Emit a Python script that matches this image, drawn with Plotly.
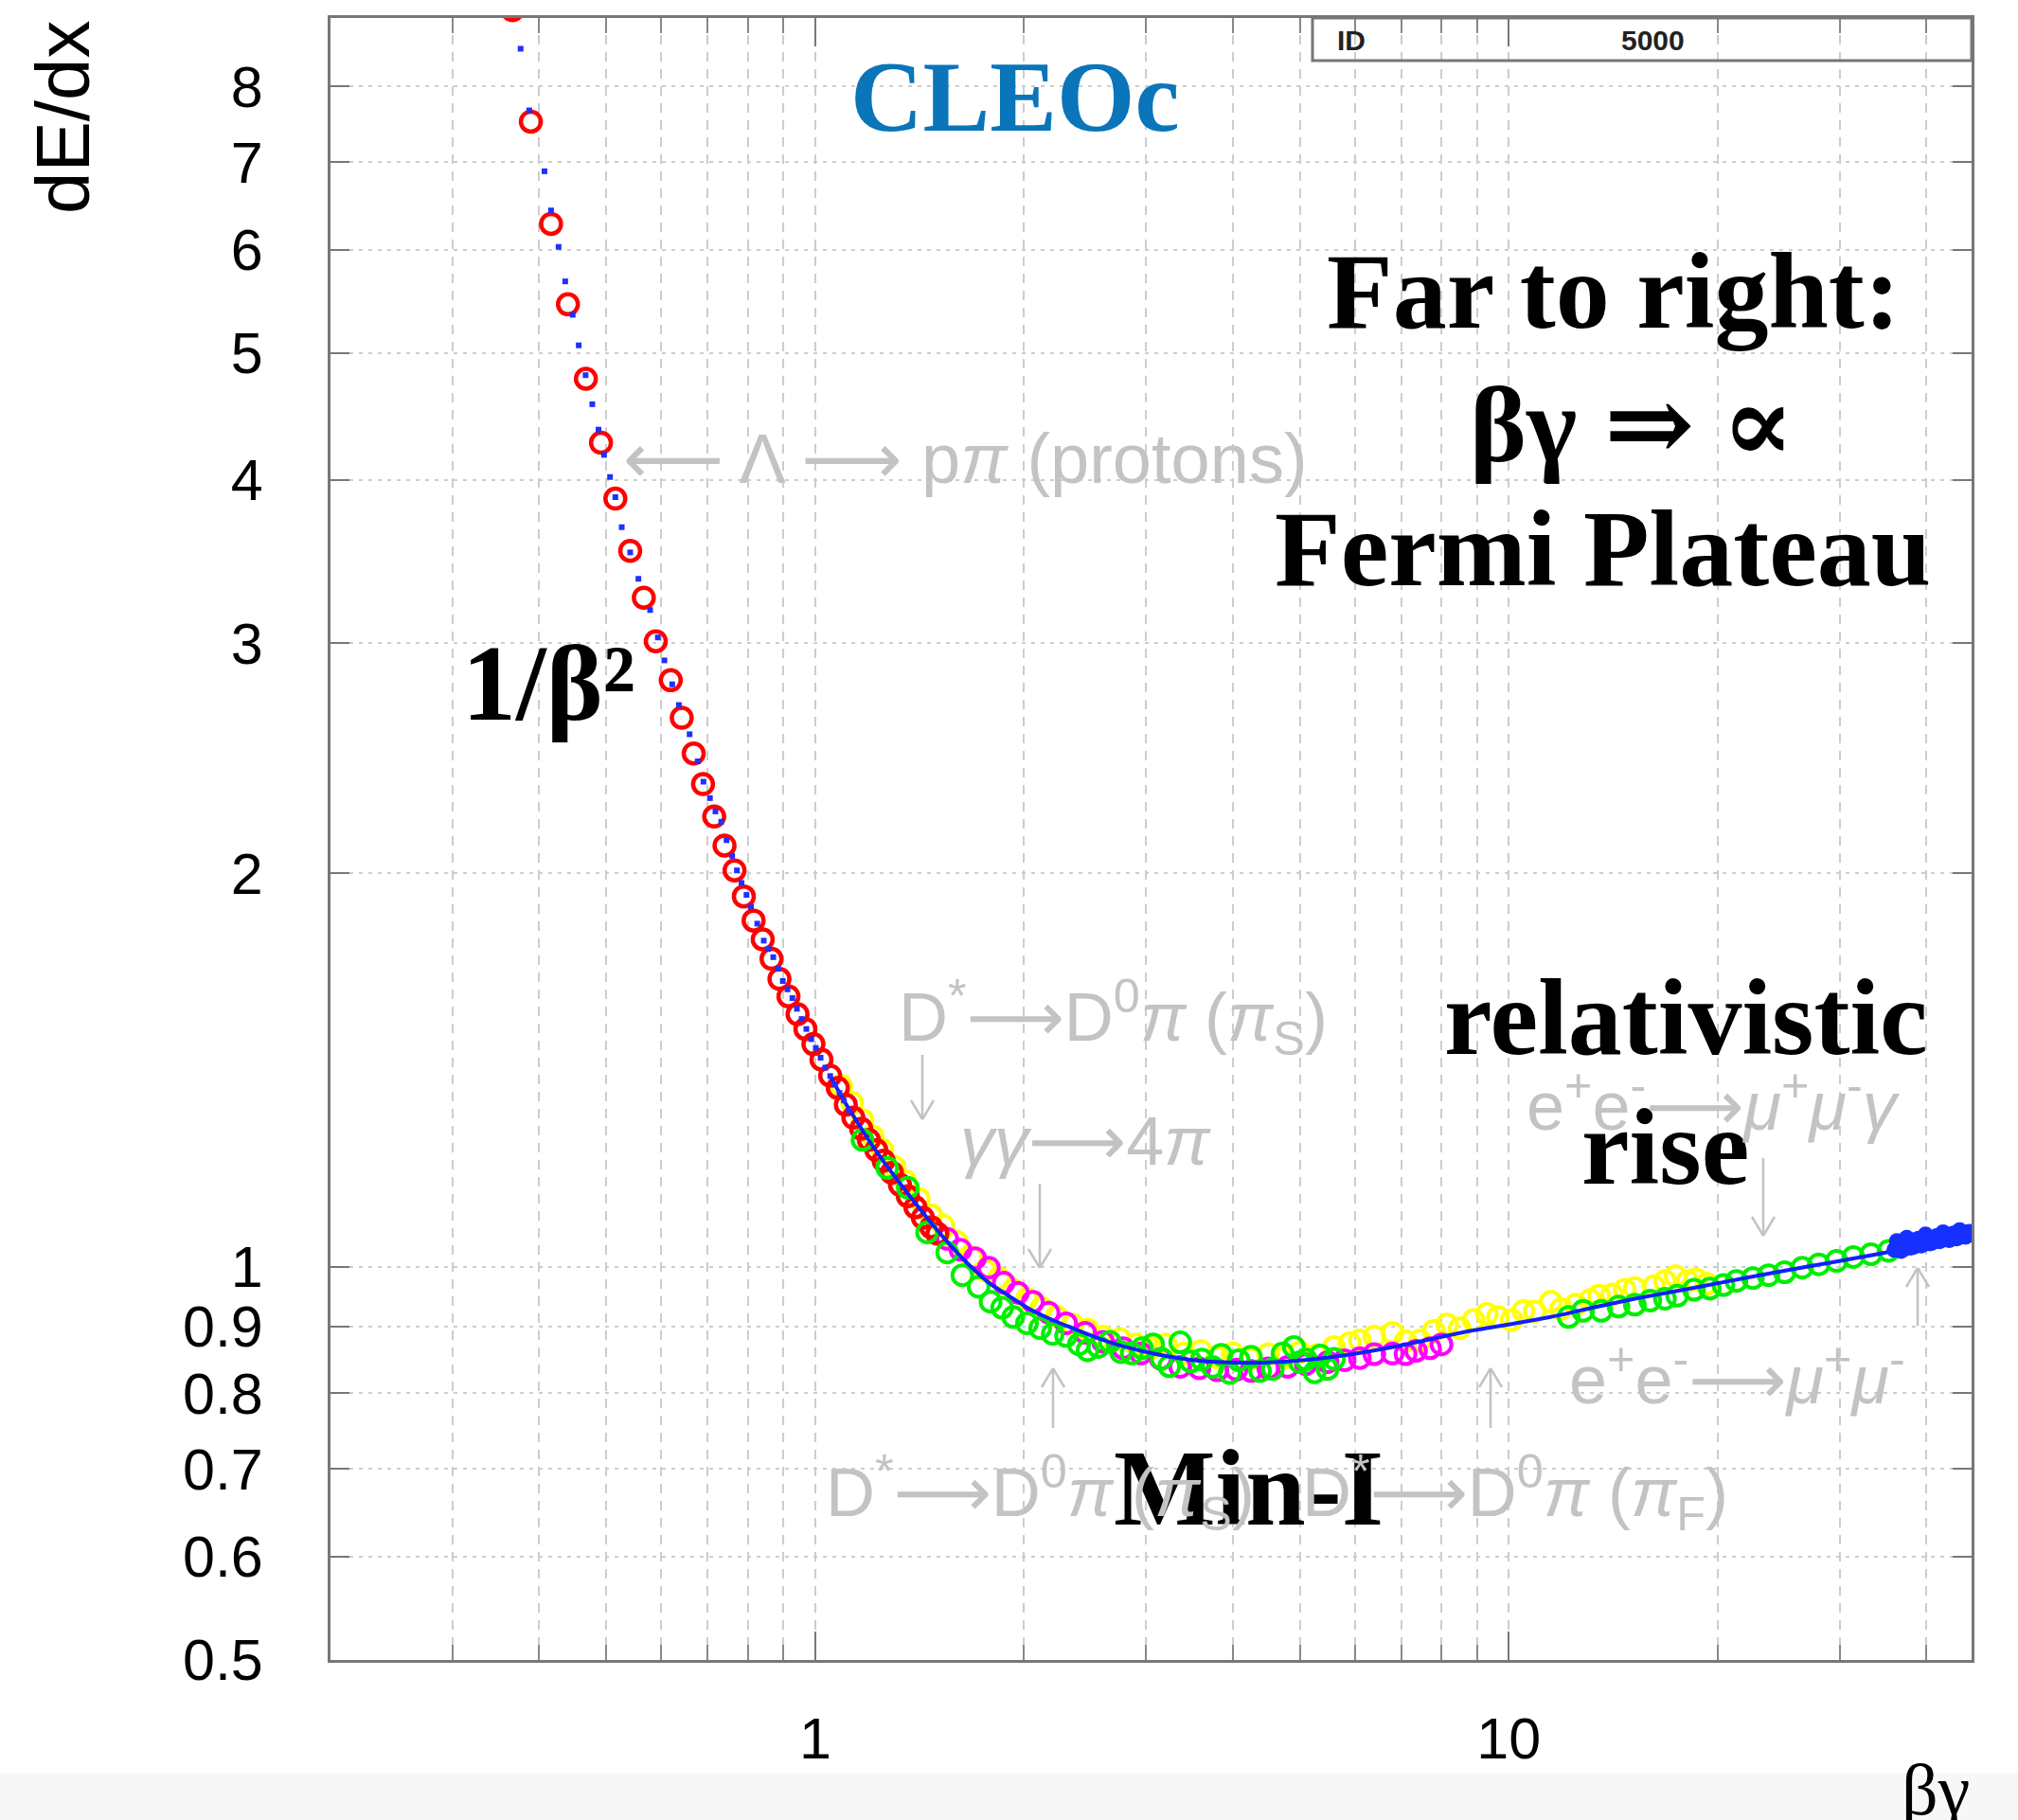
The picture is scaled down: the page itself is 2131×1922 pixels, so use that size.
import plotly.graph_objects as go

# ---------------------------------------------------------------
# Specific ionisation dE/dx (relative units) versus beta*gamma
# ---------------------------------------------------------------

# protons (red open circles)
red_bg = [0.366, 0.389, 0.416, 0.440, 0.467, 0.491, 0.515, 0.541, 0.566, 0.589,
          0.619, 0.642, 0.668, 0.689, 0.715, 0.740, 0.765, 0.789, 0.815, 0.840,
          0.865, 0.888, 0.915, 0.943, 0.968, 0.994, 1.021, 1.051, 1.078, 1.107,
          1.135, 1.165, 1.195, 1.225, 1.255, 1.290, 1.325, 1.360, 1.395, 1.430,
          1.470, 1.500]
red_dedx = [9.15, 7.52, 6.28, 5.45, 4.78, 4.27, 3.87, 3.53, 3.25, 3.01,
            2.81, 2.63, 2.47, 2.34, 2.21, 2.10, 2.01, 1.92, 1.84, 1.78,
            1.72, 1.66, 1.61, 1.56, 1.52, 1.48, 1.44, 1.40, 1.37, 1.33,
            1.30, 1.275, 1.25, 1.228, 1.205, 1.18, 1.155, 1.132, 1.11, 1.09,
            1.072, 1.060]

# yellow open circles
yel_bg = [1.09, 1.13, 1.17, 1.21, 1.25, 1.30, 1.35, 1.41, 1.47, 1.53,
          1.60, 1.68, 1.76, 1.84, 1.93, 2.02, 2.12, 2.23, 2.35, 2.47,
          2.60, 2.75, 2.90, 3.05, 3.20, 3.40, 3.60, 3.80, 4.00, 4.25,
          4.50, 4.75, 5.00, 5.30, 5.60, 5.90, 6.10, 6.40, 6.80, 7.10,
          7.45, 7.80, 8.15, 8.50, 8.90, 9.30, 9.65, 10.1, 10.5, 10.9,
          11.5, 11.9, 12.5, 13.1, 13.5, 14.1, 14.7, 15.2, 16.2, 16.8,
          17.4, 18.1, 18.6, 19.3]
yel_dedx = [1.375, 1.335, 1.295, 1.258, 1.228, 1.192, 1.162, 1.127, 1.095, 1.075,
            1.045, 1.017, 0.993, 0.980, 0.960, 0.945, 0.930, 0.916, 0.903, 0.895,
            0.884, 0.880, 0.872, 0.866, 0.872, 0.858, 0.862, 0.852, 0.858, 0.850,
            0.857, 0.852, 0.860, 0.856, 0.868, 0.874, 0.878, 0.884, 0.890, 0.877,
            0.878, 0.893, 0.903, 0.897, 0.910, 0.920, 0.915, 0.910, 0.925, 0.924,
            0.940, 0.928, 0.935, 0.943, 0.950, 0.952, 0.960, 0.963, 0.966, 0.975,
            0.983, 0.975, 0.978, 0.970]

# magenta open circles
mag_bg = [1.55, 1.62, 1.70, 1.78, 1.87, 1.96, 2.06, 2.17, 2.30, 2.45,
          2.60, 2.78, 2.95, 3.15, 3.36, 3.58, 3.80, 4.05, 4.25, 4.50,
          4.80, 5.10, 5.48, 5.80, 6.10, 6.40, 6.80, 7.10, 7.35, 7.70, 8.00]
mag_dedx = [1.050, 1.030, 1.015, 0.998, 0.972, 0.955, 0.940, 0.922, 0.905, 0.890,
            0.876, 0.866, 0.858, 0.850, 0.838, 0.836, 0.833, 0.834, 0.832, 0.836,
            0.838, 0.842, 0.845, 0.848, 0.851, 0.857, 0.858, 0.857, 0.862, 0.866, 0.872]

# green open circles
grn_bg = [1.17, 1.27, 1.36, 1.45, 1.55, 1.63, 1.72, 1.79, 1.86, 1.93,
          2.02, 2.11, 2.20, 2.30, 2.40, 2.47, 2.56, 2.66, 2.76, 2.86,
          2.96, 3.07, 3.16, 3.24, 3.36, 3.48, 3.61, 3.74, 3.85, 3.96,
          4.08, 4.25, 4.38, 4.57, 4.72, 4.90, 5.00, 5.10, 5.25, 5.35,
          5.48, 5.60, 12.2, 12.8, 13.6, 14.4, 15.2, 16.0, 16.8, 17.5,
          18.5, 19.5, 20.4, 21.3, 22.5, 23.7, 25.0, 26.5, 28.0, 29.7,
          31.4, 33.3, 35.3]
grn_dedx = [1.250, 1.190, 1.149, 1.062, 1.025, 0.985, 0.965, 0.940, 0.930, 0.915,
            0.905, 0.897, 0.888, 0.885, 0.872, 0.863, 0.868, 0.876, 0.860, 0.858,
            0.866, 0.872, 0.850, 0.839, 0.875, 0.846, 0.849, 0.838, 0.856, 0.829,
            0.848, 0.853, 0.832, 0.835, 0.858, 0.868, 0.845, 0.849, 0.830, 0.855,
            0.835, 0.850, 0.915, 0.925, 0.925, 0.932, 0.935, 0.942, 0.945, 0.950,
            0.960, 0.962, 0.968, 0.975, 0.980, 0.985, 0.990, 0.998, 1.004, 1.010,
            1.017, 1.022, 1.028]

# dense blue points at the highest beta*gamma
blob_bg = [36.0, 36.6, 37.2, 37.8, 38.4, 39.0, 39.6, 40.2, 40.8, 41.4,
           42.0, 42.6, 43.2, 43.8, 44.4, 45.0, 45.6, 46.2,
           36.3, 37.5, 38.7, 39.9, 41.1, 42.3, 43.5, 44.7, 45.9,
           36.8, 38.0, 39.3, 40.5, 41.8, 43.0, 44.2, 45.4]
blob_dedx = [1.030, 1.040, 1.032, 1.045, 1.036, 1.050, 1.040, 1.052, 1.043, 1.055,
             1.047, 1.058, 1.048, 1.060, 1.052, 1.062, 1.054, 1.063,
             1.046, 1.052, 1.048, 1.058, 1.052, 1.062, 1.058, 1.066, 1.062,
             1.028, 1.034, 1.038, 1.042, 1.046, 1.049, 1.051, 1.056]

# expectation sampled as small blue points (steep low-beta*gamma part)
dot_bg = [0.376, 0.387, 0.407, 0.416, 0.4265, 0.436, 0.447, 0.456, 0.4665, 0.477,
          0.487, 0.496, 0.506, 0.515, 0.526, 0.541, 0.556, 0.578, 0.593, 0.606,
          0.622, 0.636, 0.659, 0.677, 0.690, 0.705, 0.718, 0.732, 0.745, 0.759,
          0.771, 0.783, 0.796, 0.808, 0.825, 0.843, 0.856, 0.870, 0.884, 0.898,
          0.912, 0.927, 0.941, 0.956, 0.971, 0.987, 1.002, 1.018, 1.034, 1.051,
          1.068, 1.084, 1.100, 1.119]
dot_dedx = [8.55, 7.67, 6.89, 6.43, 6.03, 5.675, 5.35, 5.07, 4.81, 4.57,
            4.37, 4.18, 4.02, 3.88, 3.68, 3.52, 3.36, 3.18, 3.03, 2.91,
            2.79, 2.69, 2.555, 2.436, 2.35, 2.283, 2.23, 2.19, 2.12, 2.062,
            2.01, 1.966, 1.925, 1.884, 1.83, 1.776, 1.75, 1.725, 1.69, 1.654,
            1.63, 1.605, 1.575, 1.547, 1.52, 1.493, 1.47, 1.445, 1.42, 1.399,
            1.378, 1.358, 1.34, 1.317]

# expectation as a continuous line (minimum and relativistic rise)
fit_bg = [1.05, 1.10, 1.15, 1.20, 1.26, 1.33, 1.40, 1.48, 1.57, 1.67,
          1.78, 1.90, 2.03, 2.18, 2.35, 2.55, 2.80, 3.10, 3.45, 3.85,
          4.30, 4.80, 5.40, 6.10, 6.90, 7.80, 8.80, 10.0, 11.5, 13.2,
          15.2, 17.5, 20.2, 23.3, 27.0, 31.0, 36.0, 41.0, 46.5]
fit_dedx = [1.400, 1.340, 1.290, 1.245, 1.200, 1.155, 1.115, 1.075, 1.037, 1.002,
            0.972, 0.950, 0.929, 0.912, 0.897, 0.882, 0.868, 0.857, 0.849, 0.845,
            0.844, 0.846, 0.851, 0.859, 0.869, 0.881, 0.893, 0.903, 0.915, 0.930,
            0.945, 0.958, 0.972, 0.986, 1.000, 1.013, 1.028, 1.040, 1.050]

# axis ticks
y_ticks = [0.5, 0.6, 0.7, 0.8, 0.9, 1, 2, 3, 4, 5, 6, 7, 8]
y_tick_text = ["0.5", "0.6", "0.7", "0.8", "0.9", "1", "2", "3", "4", "5", "6", "7", "8"]
x_ticks = [1, 10]
x_tick_text = ["1", "10"]
x_minor = [0.3, 0.4, 0.5, 0.6, 0.7, 0.8, 0.9, 2, 3, 4, 5, 6, 7, 8, 9, 20, 30, 40]

# ---------------------------------------------------------------
W, H = 2131, 1922
L, R, T, B = 349, 2082, 19, 1753   # frame edges in pixels


def px(X):
    return (X - L) / (R - L)


def py(Y):
    return (B - Y) / (B - T)


fig = go.Figure()


def circles(x, y, color, size=21, width=4):
    fig.add_trace(go.Scatter(
        x=x, y=y, mode="markers", showlegend=False, hoverinfo="skip",
        marker=dict(symbol="circle-open", size=size, color=color,
                    line=dict(width=width, color=color))))


circles(yel_bg, yel_dedx, "#ffff00")
circles(mag_bg, mag_dedx, "#ff00ff")
circles(red_bg, red_dedx, "#ff0000", size=21, width=4.5)
circles(grn_bg, grn_dedx, "#00ee00")

fig.add_trace(go.Scatter(
    x=fit_bg, y=fit_dedx, mode="lines", showlegend=False, hoverinfo="skip",
    line=dict(color="#1020ff", width=4, shape="spline", smoothing=0.6)))
fig.add_trace(go.Scatter(
    x=dot_bg, y=dot_dedx, mode="markers", showlegend=False, hoverinfo="skip",
    marker=dict(symbol="square", size=6, color="#2030ff")))
fig.add_trace(go.Scatter(
    x=blob_bg, y=blob_dedx, mode="markers", showlegend=False, hoverinfo="skip",
    marker=dict(symbol="circle", size=17, color="#1530ff")))

# ---------------------------------------------------------------
annotations = []


def text(X, Y, s, size, color="black", family="Liberation Serif",
         xanchor="center", yanchor="middle", angle=0):
    annotations.append(dict(
        x=px(X), y=py(Y), xref="paper", yref="paper", text=s,
        showarrow=False, xanchor=xanchor, yanchor=yanchor, textangle=angle,
        font=dict(family=family, size=size, color=color)))


# headline labels
text(1071, 103, "<b>CLEOc</b>", 106, color="#0a75b9")
text(1704, 308, "<b>Far to right:</b>", 114)
text(1723, 448, "<b>βγ ⇒ ∝</b>", 114, family="Liberation Serif, DejaVu Serif")
text(1692, 580, "<b>Fermi Plateau</b>", 114)
text(1780, 1074, "<b>relativistic</b>", 114)
text(1758, 1211, "<b>rise</b>", 114)
text(579, 722, "<b>1/β²</b>", 114)
text(1318, 1571, "<b>Min-I</b>", 114)

# faint process labels
GREY = "#c3c3c3"
SANS = "Liberation Sans, DejaVu Sans"
text(656, 485, "⟵ Λ ⟶ p<i>π</i> (protons)", 74, GREY, SANS, xanchor="left")
text(947, 1074, "D<sup>*</sup>⟶D<sup>0</sup><i>π</i> (<i>π</i><sub>S</sub>)", 72,
     GREY, SANS, xanchor="left")
text(1012, 1205, "<i>γγ</i>⟶4<i>π</i>", 72, GREY, SANS, xanchor="left")
text(870, 1576, "D<sup>*</sup>⟶D<sup>0</sup><i>π</i> (<i>π</i><sub>S</sub>)", 72,
     GREY, SANS, xanchor="left")
text(1373, 1576, "D<sup>*</sup>⟶D<sup>0</sup><i>π</i> (<i>π</i><sub>F</sub>)", 72,
     GREY, SANS, xanchor="left")
text(1610, 1162, "e<sup>+</sup>e<sup>-</sup>⟶<i>μ</i><sup>+</sup><i>μ</i><sup>-</sup><i>γ</i>",
     72, GREY, SANS, xanchor="left")
text(1655, 1451, "e<sup>+</sup>e<sup>-</sup>⟶<i>μ</i><sup>+</sup><i>μ</i><sup>-</sup>",
     72, GREY, SANS, xanchor="left")

# statistics box text
text(1427, 42, "<b>ID</b>", 30, "#222222", SANS)
text(1745, 42, "<b>5000</b>", 30, "#222222", SANS)

# axis titles
text(66, 124, "dE/dx", 80, "black", SANS, angle=-90)
text(2044, 1890, "βγ", 76, "black", "Liberation Serif")

# ---------------------------------------------------------------
shapes = []


def seg(X0, Y0, X1, Y1, color=GREY, width=2.5):
    shapes.append(dict(type="line", xref="paper", yref="paper",
                       x0=px(X0), y0=py(Y0), x1=px(X1), y1=py(Y1),
                       line=dict(color=color, width=width)))


def arrow(X, Ytail, Ytip):
    seg(X, Ytail, X, Ytip)
    d = 20 if Ytip > Ytail else -20
    seg(X, Ytip, X - 12, Ytip - d)
    seg(X, Ytip, X + 12, Ytip - d)


arrow(974, 1114, 1182)
arrow(1098, 1250, 1339)
arrow(1112, 1508, 1445)
arrow(1574, 1508, 1445)
arrow(1862, 1223, 1305)
arrow(2025, 1400, 1339)

# statistics box
shapes.append(dict(type="rect", xref="paper", yref="paper",
                   x0=px(1386), x1=px(2082), y0=py(64), y1=py(19),
                   line=dict(color="#777777", width=3), fillcolor="rgba(0,0,0,0)"))

# light strip along the bottom edge of the canvas
shapes.append(dict(type="rect", xref="paper", yref="paper", layer="below",
                   x0=px(0), x1=px(W), y0=py(H), y1=py(1873),
                   line=dict(width=0), fillcolor="#f7f7f7"))

GRID = "#cdcdcd"
fig.update_layout(
    width=W, height=H,
    margin=dict(l=L, r=W - R, t=T, b=H - B, pad=0),
    paper_bgcolor="white", plot_bgcolor="white",
    annotations=annotations, shapes=shapes,
    showlegend=False,
    xaxis=dict(
        type="log", range=[-0.69897, 1.6675],
        tickmode="array", tickvals=x_ticks, ticktext=x_tick_text,
        ticks="inside", ticklen=30, tickwidth=2, tickcolor="#777777",
        ticklabelstandoff=28,
        tickfont=dict(family=SANS, size=61, color="black"),
        showgrid=True, gridcolor=GRID, gridwidth=2, griddash="10px,8px",
        minor=dict(tickmode="array", tickvals=x_minor, ticks="inside",
                   ticklen=16, tickwidth=2, tickcolor="#888888",
                   showgrid=True, gridcolor=GRID, gridwidth=2, griddash="10px,8px"),
        showline=True, linecolor="#777777", linewidth=3, mirror="allticks",
        zeroline=False,
    ),
    yaxis=dict(
        type="log", range=[-0.30103, 0.9555],
        tickmode="array", tickvals=y_ticks, ticktext=y_tick_text,
        ticks="inside", ticklen=20, tickwidth=2, tickcolor="#777777",
        ticklabelstandoff=56,
        tickfont=dict(family=SANS, size=61, color="black"),
        showgrid=True, gridcolor=GRID, gridwidth=2, griddash="4px,6px",
        showline=True, linecolor="#777777", linewidth=3, mirror="allticks",
        zeroline=False,
    ),
)

fig.write_html("out.html")
